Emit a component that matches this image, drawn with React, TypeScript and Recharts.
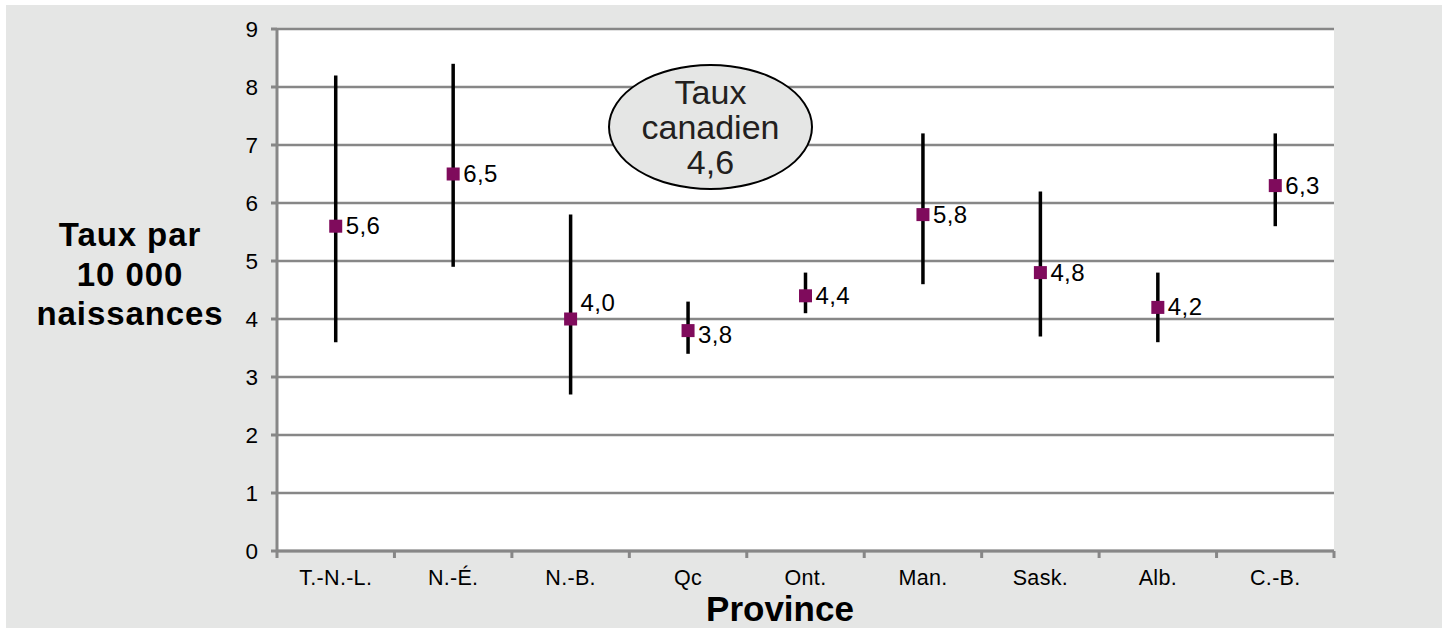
import React from "react";
import {
  ComposedChart,
  Scatter,
  ErrorBar,
  XAxis,
  YAxis,
  CartesianGrid,
} from "recharts";

const provinces = ["T.-N.-L.", "N.-É.", "N.-B.", "Qc", "Ont.", "Man.", "Sask.", "Alb.", "C.-B."];
const rates = [5.6, 6.5, 4.0, 3.8, 4.4, 5.8, 4.8, 4.2, 6.3];
const lower = [3.6, 4.9, 2.7, 3.4, 4.1, 4.6, 3.7, 3.6, 5.6];
const upper = [8.2, 8.4, 5.8, 4.3, 4.8, 7.2, 6.2, 4.8, 7.2];
const yTicks = [0, 1, 2, 3, 4, 5, 6, 7, 8, 9];
const canadianRate = "4,6";

// label nudges (px) where the labels sit off-centre in the original
const labelShift: Record<string, number> = { "N.-B.": -16, Qc: 4 };

const fmt = (v: number) => v.toFixed(1).replace(".", ",");

const data = provinces.map((p, i) => ({
  name: p,
  x: i + 0.5,
  value: rates[i],
  err: [+(rates[i] - lower[i]).toFixed(2), +(upper[i] - rates[i]).toFixed(2)],
  label: fmt(rates[i]),
}));

const xTicks: number[] = [];
for (let i = 0; i <= provinces.length * 2; i++) xTicks.push(i / 2);

const FONT = "'Liberation Sans', Arial, Helvetica, sans-serif";
const GRID = "#878787";
const PURPLE = "#7f0b5c";

const XTick = (props: any) => {
  const { x, y, payload } = props;
  const v = payload.value;
  if (Number.isInteger(v)) {
    return <line x1={x} x2={x} y1={y} y2={y + 7} stroke={GRID} strokeWidth={3} />;
  }
  return (
    <text x={x} y={y + 34} textAnchor="middle" fontSize={21.5} fontFamily={FONT} fill="#000" letterSpacing={0.3}>
      {provinces[Math.floor(v)]}
    </text>
  );
};

const Marker = (props: any) => {
  const { cx, cy, payload } = props;
  const dy = labelShift[payload.name] || 0;
  return (
    <g>
      <rect x={cx - 6.5} y={cy - 6.5} width={13} height={13} fill={PURPLE} />
      <text x={cx + 10} y={cy + 8 + dy} fontSize={24} fontFamily={FONT} fill="#000" letterSpacing={0.4}>
        {payload.label}
      </text>
    </g>
  );
};

export default function App() {
  return (
    <div style={{ position: "fixed", left: 0, top: 0, width: 1447, height: 628, background: "#fff", fontFamily: FONT }}>
      <div style={{ position: "absolute", left: 6, top: 5, width: 1436, height: 623, background: "#e5e6e5" }}>
        <ComposedChart
          width={1436}
          height={623}
          data={data}
          margin={{ top: 24, right: 108, left: 211, bottom: 37 }}
        >
          <CartesianGrid vertical={false} stroke={GRID} strokeWidth={2.5} fill="#fff" />
          <XAxis
            type="number"
            dataKey="x"
            domain={[0, provinces.length]}
            ticks={xTicks}
            interval={0}
            tick={<XTick />}
            tickLine={false}
            tickSize={0}
            tickMargin={0}
            height={40}
            axisLine={{ stroke: GRID, strokeWidth: 3 }}
          />
          <YAxis
            type="number"
            domain={[0, 9]}
            ticks={yTicks}
            interval={0}
            width={60}
            tickSize={6}
            tickMargin={13}
            tick={{ fontSize: 22.5, fill: "#000", fontFamily: FONT }}
            tickLine={{ stroke: GRID, strokeWidth: 3 }}
            axisLine={{ stroke: GRID, strokeWidth: 3 }}
          />
          <Scatter dataKey="value" shape={<Marker />} isAnimationActive={false}>
            <ErrorBar dataKey="err" direction="y" width={0} stroke="#000" strokeWidth={3.5} />
          </Scatter>
        </ComposedChart>
      </div>
      <div
        style={{
          position: "absolute",
          left: 10,
          top: 215,
          width: 240,
          textAlign: "center",
          fontSize: 33,
          fontWeight: "bold",
          letterSpacing: 0.9,
          lineHeight: "39.5px",
          color: "#000",
        }}
      >
        Taux par
        <br />
        10 000
        <br />
        naissances
      </div>
      <div
        style={{
          position: "absolute",
          left: 630,
          top: 592,
          width: 300,
          textAlign: "center",
          fontSize: 35,
          fontWeight: "bold",
          lineHeight: "34px",
          color: "#000",
        }}
      >
        Province
      </div>
      <div
        style={{
          position: "absolute",
          left: 608,
          top: 64,
          width: 201,
          height: 122,
          borderRadius: "50%",
          border: "2px solid #000",
          background: "#e5e6e5",
          textAlign: "center",
          fontSize: 34,
          lineHeight: "35px",
          color: "#231f20",
          display: "flex",
          flexDirection: "column",
          justifyContent: "center",
        }}
      >
        <div>Taux</div>
        <div>canadien</div>
        <div>{canadianRate}</div>
      </div>
    </div>
  );
}
